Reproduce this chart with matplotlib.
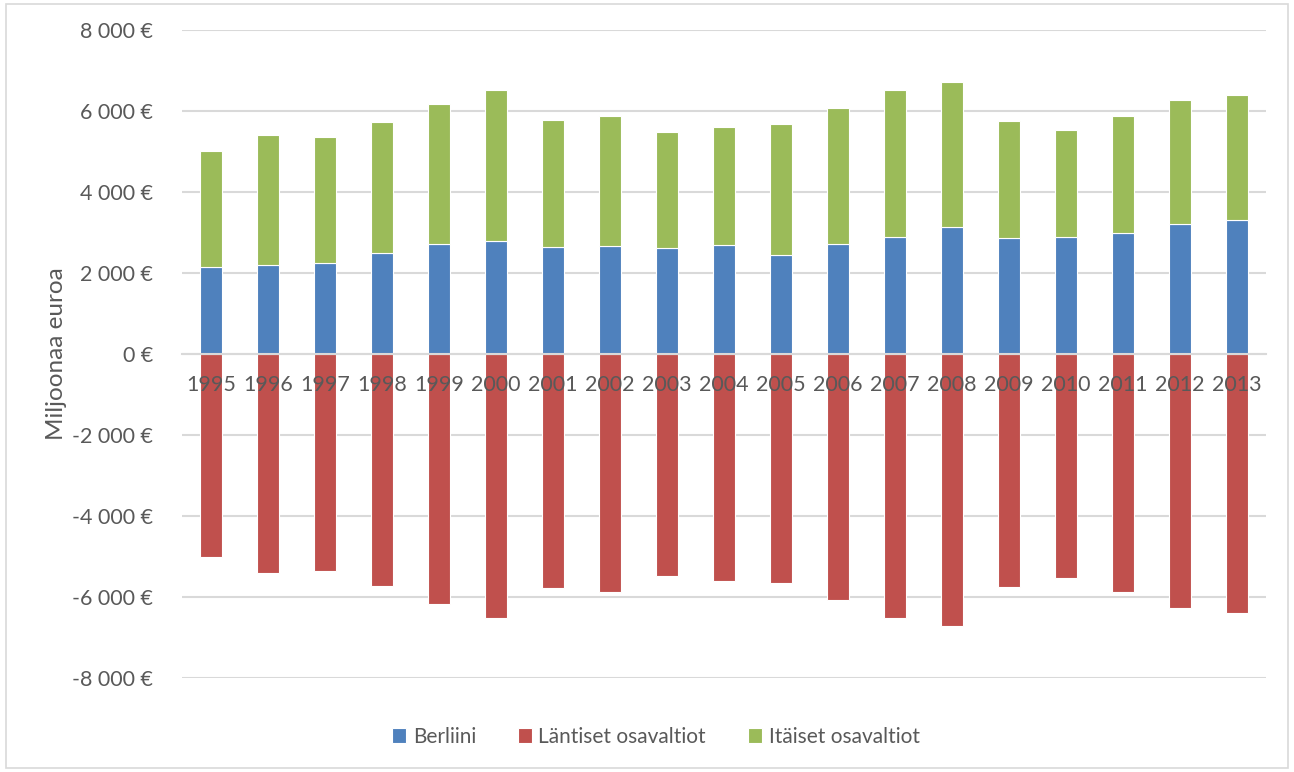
import numpy as np
import matplotlib.pyplot as plt
import matplotlib.ticker as ticker
from matplotlib.patches import Rectangle

plt.rcParams['font.family'] = ['Lato', 'DejaVu Sans']

# data (million euros)
years = [str(y) for y in range(1995, 2014)]
berliini = [2156, 2205, 2254, 2501, 2724, 2798, 2650, 2675, 2625, 2699,
            2453, 2708, 2897, 3144, 2872, 2897, 2996, 3218, 3317]
totals = [5004, 5400, 5350, 5720, 6181, 6519, 5778, 5877, 5481, 5613,
          5670, 6074, 6519, 6716, 5745, 5523, 5877, 6272, 6403]
itaiset = [t - b for t, b in zip(totals, berliini)]
lantiset = [-t for t in totals]

c_blue = '#4F81BD'
c_red = '#C0504D'
c_green = '#9BBB59'
txt = '#595959'

fig = plt.figure(figsize=(12.94, 7.72), dpi=100)
ax = fig.add_axes([0.141, 0.122, 0.837, 0.839])

x = np.arange(len(years))
w = 0.38
ax.bar(x, berliini, w, color=c_blue, edgecolor='white', linewidth=0.8, label='Berliini', zorder=3)
ax.bar(x, lantiset, w, color=c_red, edgecolor='white', linewidth=0.8, label='Läntiset osavaltiot', zorder=3)
ax.bar(x, itaiset, w, bottom=berliini, color=c_green, edgecolor='white', linewidth=0.8,
       label='Itäiset osavaltiot', zorder=3)

ax.set_xlim(-0.5, len(years) - 0.5)
ax.set_ylim(-8000, 8000)
ax.set_yticks(range(-8000, 8001, 2000))
ax.yaxis.set_major_formatter(ticker.FuncFormatter(
    lambda v, p: '{:,.0f} €'.format(v).replace(',', ' ')))
ax.grid(axis='y', color='#d9d9d9', linewidth=1.5, zorder=0)

for s in ['top', 'right', 'left']:
    ax.spines[s].set_visible(False)
ax.spines['bottom'].set_position(('data', 0))
ax.spines['bottom'].set_color('#d9d9d9')
ax.spines['bottom'].set_linewidth(1.5)
ax.spines['bottom'].set_zorder(4)

ax.set_xticks(x)
ax.set_xticklabels(years)
ax.xaxis.set_zorder(5)
ax.tick_params(axis='x', length=0, pad=15, labelsize=15.5, labelcolor=txt)
ax.tick_params(axis='y', length=0, pad=21, labelsize=15.5, labelcolor=txt)

ax.set_ylabel('Miljoonaa euroa', fontsize=17.5, color=txt, labelpad=4)

ax.legend(loc='upper center', bbox_to_anchor=(0.437, -0.047), ncol=3, frameon=False,
          fontsize=15, labelcolor=txt, handlelength=0.7, handleheight=0.7,
          handletextpad=0.3, columnspacing=2.0)

fig.patches.append(Rectangle((0.005, 0.005), 0.99, 0.99, transform=fig.transFigure,
                             fill=False, edgecolor='#d9d9d9', linewidth=1.2))

plt.savefig('out.png')
